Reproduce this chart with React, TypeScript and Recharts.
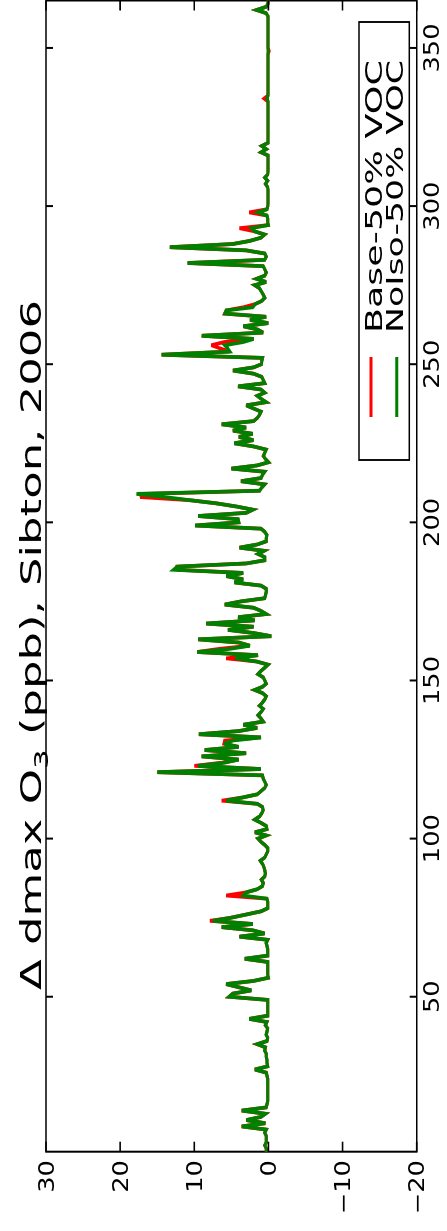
import React from 'react'
import { LineChart, Line, XAxis, YAxis, ReferenceArea } from 'recharts'

// the figure is drawn lying down and turned a quarter turn; text is stretched along the long side
const S = 1.25
const W = 1231 / S
const H = 447
const PLOT_TOP = 46
const PLOT_BOTTOM = 416.7
const PLOT_LEFT = 79.3 / S
const PLOT_RIGHT = 1230.5 / S

// NoIso-50% VOC, one value per day of 2006
const jan = [0.3, 0.3, 0.5, 0.3, 0.3, 0.3, 0.5, 0.3, 3.6, 0.4, 3.0, 1.0, 0.4, 3.6, 0.3, 0.2, 0.1, 0.1, 0.1, 0.1, 0.1, 0.1, 0.1, 0.1, 0.2, 0.3, 1.85, 0.1, 0.2, 0.2, 0.3]
const feb = [0.3, 0.5, 0.4, 1.5, 0.2, 0.1, 0.3, 0.2, 0.1, 0.4, 0.2, 2.6, 0.1, 0.1, 0.1, 0.1, 0.1, 0.1, 5.3, 4.8, 2.3, 4.0, 5.7, 2.0, 0.0, 0.1, 0.1, 0.1]
const mar = [0.1, 0.1, 3.2, 0.1, 0.1, 0.1, 0.2, 0.3, 0.1, 3.9, 0.5, 2.1, 6.3, 2.1, 7.5, 5.0, 3.0, 1.0, 0.1, 0.1, 0.1, 0.2, 3.4, 3.0, 1.5, 0.8, 0.7, 0.95, 0.5, 0.4, 0.5]
const apr = [0.6, 0.8, 1.1, 0.5, 0.3, 0.1, 0.1, 0.5, 1.0, 1.4, 0.3, 1.85, 0.2, 0.3, 1.0, 1.85, 1.2, 0.9, 0.7, 0.8, 1.5, 5.7, 3.5, 1.5, 1.0, 0.5, 0.3, 0.5, 0.7, 0.8]
const may = [15.0, 1.0, 9.5, 5.9, 4.0, 9.0, 3.0, 8.6, 4.0, 6.0, 4.8, 1.0, 9.4, 4.0, 1.5, 3.4, 0.7, 1.0, 1.4, 1.0, 0.7, 1.2, 0.8, 0.5, 0.3, 0.8, 1.85, 0.8, 0.3, 0.5, 0.7]
const jun = [1.4, 1.0, 0.5, 0.05, 1.6, 4.5, 1.4, 9.6, 5.2, 2.5, 4.0, 9.5, -0.4, 2.0, 5.45, 2.0, 8.4, 1.85, 4.1, 0.3, 1.0, 2.0, 5.9, 3.7, 0.5, 0.4, 0.3, 0.3, 1.0, 4.6]
const jul = [3.4, 5.7, 3.4, 12.8, 12.3, 3.0, 0.5, 0.5, 1.4, 0.6, 3.9, 1.5, 0.3, 0.3, 0.2, 0.5, 1.0, 9.9, 4.0, 4.1, 9.5, 3.0, 2.1, 4.3, 7.0, 10.6, 14.0, 17.8, 1.2, 0.9, 0.5]
const aug = [3.7, 1.0, 0.8, 0.5, 5.0, 1.5, 0.0, 0.4, 0.7, 0.5, 0.3, 2.0, 4.6, 2.0, 4.0, 2.1, 4.8, 3.0, 6.3, 2.0, 1.5, 1.2, 1.0, 2.0, 3.0, 0.3, 0.95, 1.5, 0.5, 1.0, 4.1]
const sep = [0.5, 0.7, 0.9, 2.0, 4.8, 2.0, 0.95, 0.9, 0.8, 14.4, 5.2, 5.5, 5.9, 3.4, 2.0, 9.0, 0.7, 1.5, 3.4, 0.0, 2.5, 0.3, 5.9, 5.7, 2.1, 1.8, 0.9, 0.5, 0.7, 0.95]
const oct = [1.2, 1.85, 0.3, 1.6, 0.5, 0.3, 0.5, 0.7, 10.9, 0.5, 0.3, 0.5, 3.0, 13.3, 4.8, 2.5, 1.0, 0.5, 1.85, 2.3, 0.0, 0.1, 0.1, 0.2, 1.4, 0.2, 0.1, 0.05, 0.05, 0.05, 0.05]
const nov = [0.05, 0.1, 0.4, 0.1, 0.5, 0.1, 0.05, 0.05, 0.05, 0.05, 0.05, 0.05, 1.0, 0.3, 0.9, 0.05, 0.05, 0.05, 0.05, 0.05, 0.05, 0.05, 0.05, 0.05, 0.05, 0.05, 0.05, 0.05, 0.05, 0.2]
const dec = [0.05, 0.05, 0.05, 0.05, 0.05, 0.05, 0.05, 0.05, 0.05, 0.05, 0.05, 0.05, 0.05, 0.05, 0.05, 0.05, 0.05, 0.05, 0.05, 0.05, 0.05, 0.05, 0.05, 0.05, 0.05, 0.05, 0.3, 1.6, 0.3, 0.05, 0.05]

// Base-50% VOC: same as NoIso except on these days
const baseDiffs: [number, number][] = [
  [74, 7.9], [82, 5.7], [112, 6.3], [123, 10.0], [124, 6.3], [131, 5.9],
  [157, 5.7], [160, 6.6], [185, 12.2], [208, 17.3], [209, 16.5],
  [255, 6.5], [256, 7.7], [257, 6.0], [268, 3.4], [293, 3.9], [298, 2.6],
  [334, 0.6], [349, -0.1],
]

const dayTicks = [50, 100, 150, 200, 250, 300, 350]
const ppbTicks = [30, 20, 10, 0, -10, -20]

const noIso = [...jan, ...feb, ...mar, ...apr, ...may, ...jun, ...jul, ...aug, ...sep, ...oct, ...nov, ...dec]
const baseMap = new Map(baseDiffs)
const data = noIso.map((v, i) => ({
  day: i + 1,
  noIso: v,
  base: baseMap.has(i + 1) ? baseMap.get(i + 1) : v,
}))

const FONT = 'DejaVu Sans'

function DayTick({ x, payload }: any) {
  return (
    <g>
      <line x1={x} x2={x} y1={PLOT_BOTTOM} y2={PLOT_BOTTOM - 7} stroke="#000" strokeWidth={1.6} />
      <line x1={x} x2={x} y1={PLOT_TOP} y2={PLOT_TOP + 7} stroke="#000" strokeWidth={1.6} />
      <text x={x} y={439} textAnchor="middle" fontSize={20.6} fontFamily={FONT} fill="#000">
        {payload.value}
      </text>
    </g>
  )
}

function PpbTick({ y, payload }: any) {
  const label = payload.value < 0 ? '\u2212' + Math.abs(payload.value) : String(payload.value)
  return (
    <g>
      <line x1={PLOT_LEFT} x2={PLOT_LEFT + 8} y1={y} y2={y} stroke="#000" strokeWidth={1.6} />
      <line x1={PLOT_RIGHT} x2={PLOT_RIGHT - 8} y1={y} y2={y} stroke="#000" strokeWidth={1.6} />
      <text x={71 / S} y={y} textAnchor="end" dominantBaseline="central" fontSize={20.6} fontFamily={FONT} fill="#000">
        {label}
      </text>
    </g>
  )
}

export default function App() {
  return (
    <div
      style={{
        position: 'fixed',
        left: 0,
        top: 0,
        width: W,
        height: H,
        background: '#fff',
        transformOrigin: '0 0',
        transform: `rotate(-90deg) translateX(-1231px) scale(${S}, 1)`,
      }}
    >
      <LineChart width={W} height={H} data={data} margin={{ top: PLOT_TOP, right: W - PLOT_RIGHT, bottom: 0, left: 0 }}>
        <XAxis
          dataKey="day"
          type="number"
          domain={[1, 365]}
          ticks={dayTicks}
          interval={0}
          tickLine={false}
          axisLine={false}
          height={H - PLOT_BOTTOM}
          tick={<DayTick />}
        />
        <YAxis
          type="number"
          domain={[-20, 30]}
          ticks={ppbTicks}
          interval={0}
          tickLine={false}
          axisLine={false}
          width={PLOT_LEFT}
          tick={<PpbTick />}
        />
        <Line dataKey="base" stroke="#ff0000" strokeWidth={3} dot={false} isAnimationActive={false} type="linear" />
        <Line dataKey="noIso" stroke="#008000" strokeWidth={3} dot={false} isAnimationActive={false} type="linear" />
        <ReferenceArea x1={1} x2={365} y1={-20} y2={30} fill="none" fillOpacity={0} stroke="#000" strokeWidth={1.6} ifOverflow="visible" />
      </LineChart>
      <svg width={W} height={H} style={{ position: 'absolute', left: 0, top: 0, pointerEvents: 'none' }}>
        <text x={241 / S} y={41} fontSize={29} fontFamily={FONT} textLength={690 / S} lengthAdjust="spacingAndGlyphs">
          {'\u0394 dmax O'}
          <tspan fontSize={20} dy={7}>3</tspan>
          <tspan dy={-7}>{' (ppb), Sibton, 2006'}</tspan>
        </text>
        <rect x={771 / S} y={359} width={438 / S} height={50.3} fill="#fff" stroke="#000" strokeWidth={1.5} />
        <line x1={814 / S} x2={874 / S} y1={371} y2={371} stroke="#ff0000" strokeWidth={3} />
        <line x1={814 / S} x2={874 / S} y1={396.7} y2={396.7} stroke="#008000" strokeWidth={3} />
        <text x={898 / S} y={381.7} fontSize={22.8} fontFamily={FONT} textLength={273 / S} lengthAdjust="spacingAndGlyphs">
          Base-50% VOC
        </text>
        <text x={898 / S} y={403.5} fontSize={22.8} fontFamily={FONT} textLength={273 / S} lengthAdjust="spacingAndGlyphs">
          NoIso-50% VOC
        </text>
      </svg>
    </div>
  )
}
